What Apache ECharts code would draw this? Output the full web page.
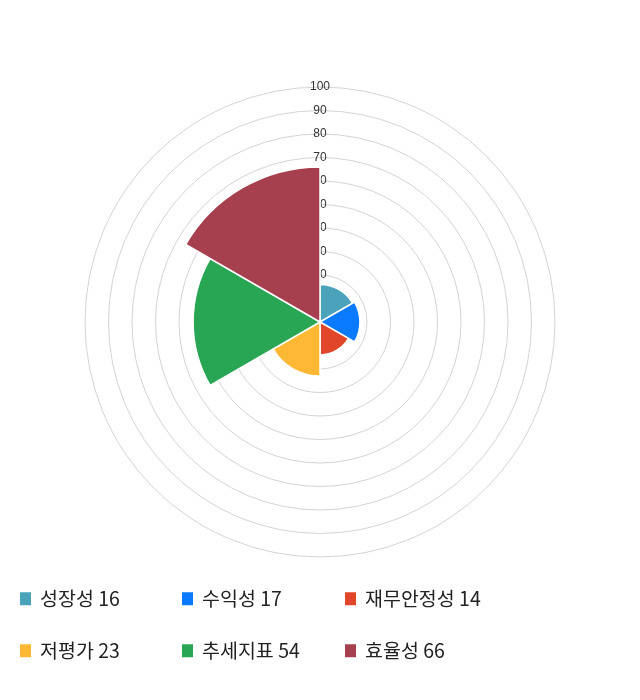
<!DOCTYPE html>
<html>
<head>
<meta charset="utf-8">
<script src="https://cdn.jsdelivr.net/npm/echarts@6/dist/echarts.min.js"></script>
<style>
  html, body { margin: 0; padding: 0; background: #fff; }
  #chart { width: 640px; height: 700px; }
</style>
</head>
<body>
<div id="chart"></div>
<script>
// 항목 / 점수
var categories = ["성장성", "수익성", "재무안정성", "저평가", "추세지표", "효율성"];
var scores = [16, 17, 14, 23, 54, 66];
var colors = ["#4AA3BA", "#0A7BFF", "#E2462A", "#FFB833", "#28A654", "#A7404E"];
var radiusTicks = [0, 10, 20, 30, 40, 50, 60, 70, 80, 90, 100];

var legendLeft = [18, 180, 343];
var legendTop = [589, 641];

var chart = echarts.init(document.getElementById("chart"));

// 각 항목마다 시리즈 하나씩 (범례 표시용)
var series = categories.map(function (name, i) {
    var data = categories.map(function (c, j) { return j === i ? scores[i] : "-"; });
    return {
        type: "bar",
        name: name,
        coordinateSystem: "polar",
        stack: "score",
        barCategoryGap: "0%",
        data: data,
        z: 3,
        itemStyle: { color: colors[i], borderColor: "#fff", borderWidth: 1.5 },
        emphasis: { disabled: true }
    };
});

var legends = categories.map(function (name, i) {
    return {
        data: [name],
        left: legendLeft[i % 3],
        top: legendTop[Math.floor(i / 3)],
        padding: 0,
        icon: "rect",
        itemWidth: 13,
        itemHeight: 15,
        selectedMode: false,
        formatter: function (n) { return n + " " + scores[categories.indexOf(n)]; },
        textStyle: {
            fontFamily: "Noto Sans CJK KR",
            fontSize: 19.5,
            color: "#222",
            padding: [0, 0, 0, 3]
        }
    };
});

var option = {
    animation: false,
    backgroundColor: "#fff",
    polar: { center: [320, 322], radius: 235 },
    angleAxis: {
        type: "category",
        data: categories,
        startAngle: 90,
        clockwise: true,
        axisLine: { show: false },
        axisTick: { show: false },
        axisLabel: { show: false },
        splitLine: { show: false }
    },
    radiusAxis: {
        min: radiusTicks[0],
        max: radiusTicks[radiusTicks.length - 1],
        interval: 10,
        z: 1,
        axisLine: { show: false },
        axisTick: { show: false },
        axisLabel: {
            margin: 0,
            align: "center",
            fontSize: 12,
            fontFamily: "Liberation Sans",
            color: "#333",
            formatter: function (v) { return v === 0 ? "" : v; }
        },
        splitLine: { show: true, lineStyle: { color: "#d4d4d4", width: 1 } }
    },
    legend: legends,
    series: series
};

chart.setOption(option);
</script>
</body>
</html>
